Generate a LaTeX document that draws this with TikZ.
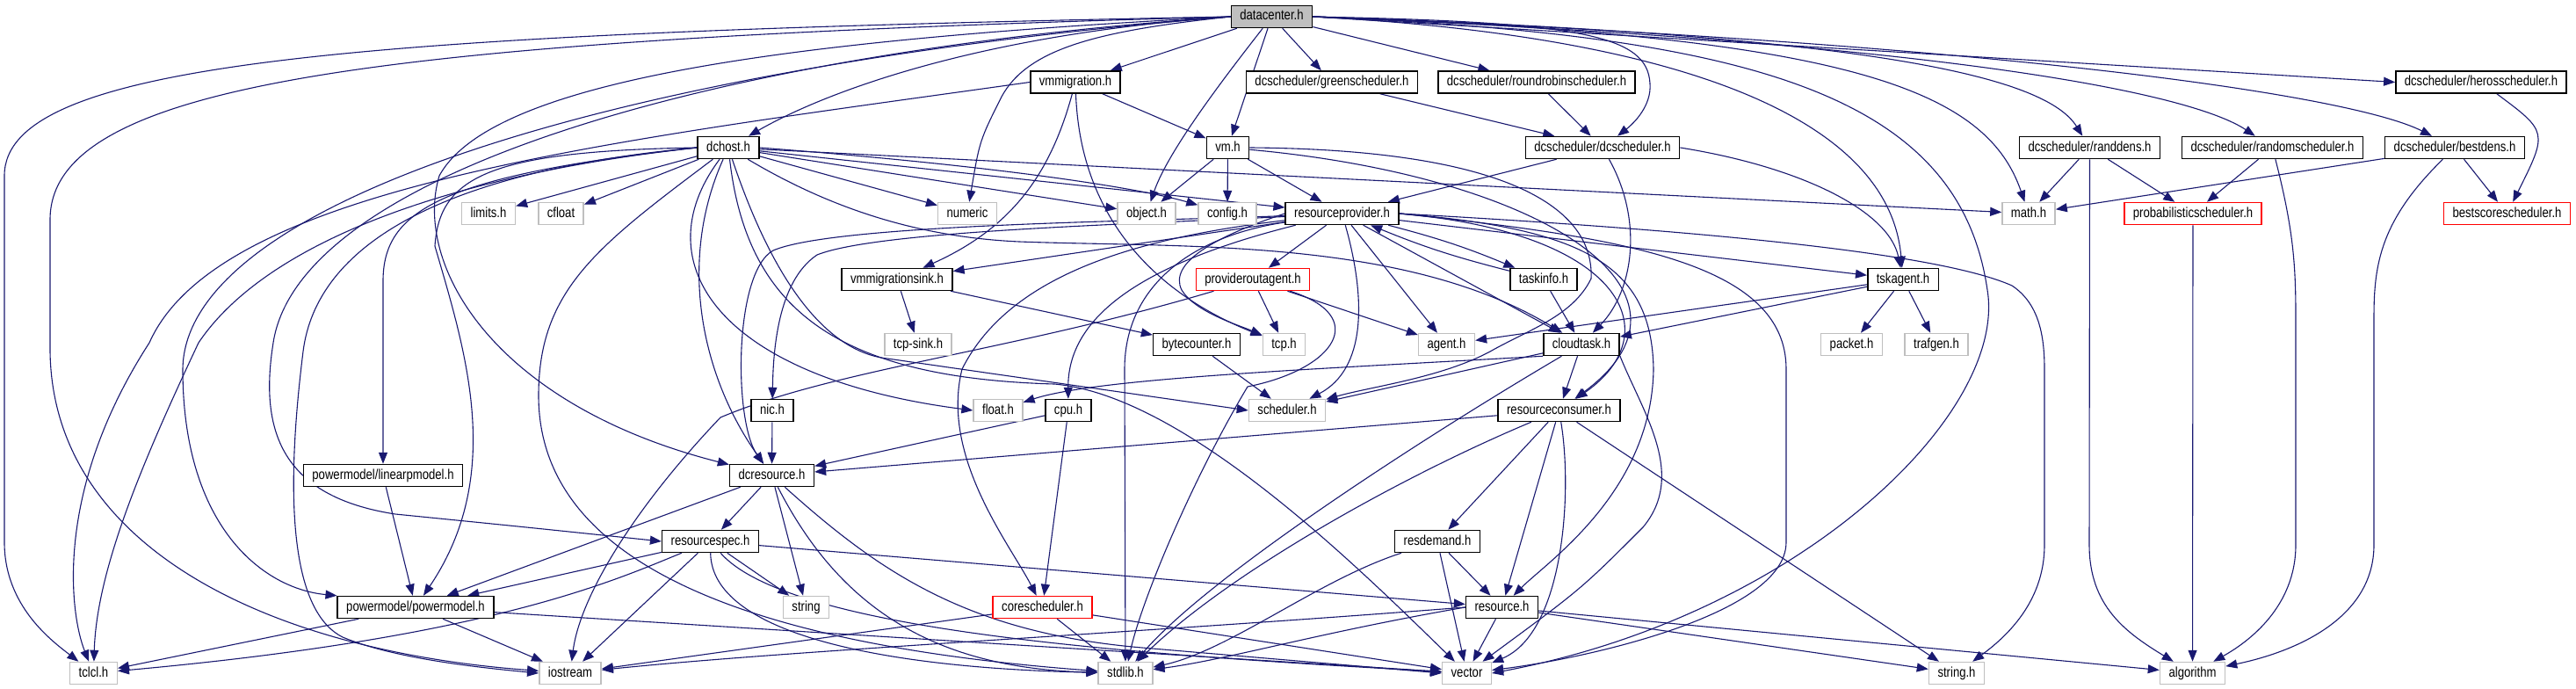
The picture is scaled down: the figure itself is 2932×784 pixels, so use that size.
\documentclass[tikz,border=0pt]{standalone}
\usepackage{fontspec}
\newfontfamily\nf[FakeStretch=0.82]{Liberation Sans}
\usetikzlibrary{arrows.meta}
\definecolor{edgec}{HTML}{191970}
\definecolor{grayb}{HTML}{BFBFBF}
\definecolor{redb}{HTML}{FF0000}
\pgfdeclarelayer{bg}
\pgfdeclarelayer{paper}
\pgfsetlayers{paper,bg,main}
\begin{document}
\begin{tikzpicture}[x=1pt,y=-1pt,
  box/.style={draw=black, line width=1.5pt, fill=white, rectangle, minimum height=25pt,
    inner xsep=10pt, inner ysep=0pt, font=\nf\fontsize{16}{16}\selectfont, text height=11.5pt, text depth=3.5pt},
  ext/.style={box, draw=grayb},
  trunc/.style={box, draw=redb},
  root/.style={box, fill=grayb},
  e/.style={draw=edgec, line width=1.1pt, -{Triangle[length=13pt,width=10pt]}}]
\begin{pgfonlayer}{paper}
\fill[white] (0,0) rectangle (2932,784);
\end{pgfonlayer}
\useasboundingbox (0,0) rectangle (2932,784);

\node[root] (dc) at (1447.5,19) {datacenter.h};
\node[box] (vmm) at (1224,93.5) {vmmigration.h};
\node[box] (green) at (1516,93.5) {dcscheduler/greenscheduler.h};
\node[box] (rr) at (1749,93.5) {dcscheduler/roundrobinscheduler.h};
\node[box] (heros) at (2824,93.5) {dcscheduler/herosscheduler.h};
\node[box] (dchost) at (829,168) {dchost.h};
\node[box] (vm) at (1397.5,168) {vm.h};
\node[box] (dcs) at (1824,168) {dcscheduler/dcscheduler.h};
\node[box] (randdens) at (2378.5,168) {dcscheduler/randdens.h};
\node[box] (randsch) at (2586.5,168) {dcscheduler/randomscheduler.h};
\node[box] (bestdens) at (2794,168) {dcscheduler/bestdens.h};
\node[ext] (limits) at (556,243) {limits.h};
\node[ext] (cfloat) at (638.5,243) {cfloat};
\node[ext] (numeric) at (1101,243) {numeric};
\node[ext] (object) at (1305,243) {object.h};
\node[ext] (config) at (1397,243) {config.h};
\node[box] (rp) at (1527.5,243) {resourceprovider.h};
\node[ext] (math) at (2309,243) {math.h};
\node[trunc] (prob) at (2496,243) {probabilisticscheduler.h};
\node[trunc] (bestscore) at (2853.5,243) {bestscorescheduler.h};
\node[box] (vmsink) at (1021,318) {vmmigrationsink.h};
\node[trunc] (poa) at (1426,318) {provideroutagent.h};
\node[box] (taskinfo) at (1757,318) {taskinfo.h};
\node[box] (tskagent) at (2166,318) {tskagent.h};
\node[ext] (tcpsink) at (1045,392) {tcp-sink.h};
\node[box] (bytecounter) at (1362,392) {bytecounter.h};
\node[ext] (tcp) at (1461.5,392) {tcp.h};
\node[ext] (agent) at (1646.5,392) {agent.h};
\node[box] (cloudtask) at (1800,392) {cloudtask.h};
\node[ext] (packet) at (2107.5,392) {packet.h};
\node[ext] (trafgen) at (2204,392) {trafgen.h};
\node[box] (nic) at (879,467) {nic.h};
\node[ext] (float) at (1136,467) {float.h};
\node[box] (cpu) at (1216,467) {cpu.h};
\node[ext] (scheduler) at (1465,467) {scheduler.h};
\node[box] (rc) at (1774.5,467) {resourceconsumer.h};
\node[box] (linear) at (436,541) {powermodel/linearpmodel.h};
\node[box] (dcres) at (878.5,541) {dcresource.h};
\node[box] (rspec) at (808.5,616) {resourcespec.h};
\node[box] (resdemand) at (1636,616) {resdemand.h};
\node[box] (pm) at (473,691) {powermodel/powermodel.h};
\node[ext] (string) at (917.5,691) {string};
\node[trunc] (coresch) at (1186.5,691) {corescheduler.h};
\node[box] (resource) at (1709.5,691) {resource.h};
\node[ext] (tclcl) at (106.5,766) {tclcl.h};
\node[ext] (iostream) at (649,766) {iostream};
\node[ext] (stdlib) at (1281,766) {stdlib.h};
\node[ext] (vector) at (1669.5,766) {vector};
\node[ext] (stringh) at (2227,766) {string.h};
\node[ext] (algorithm) at (2495.5,766) {algorithm};

\begin{pgfonlayer}{bg}
% datacenter.h
\draw[e] (dc) -- (vmm);
\draw[e] (dc) -- (green);
\draw[e] (dc) -- (rr);
\draw[e] (dc.east) -- (heros.west);
\draw[e] (dc) -- (vm);
\draw[e] (dc) .. controls (1400,80) and (1330,170) .. (object);
\draw[e] (dc.west) .. controls (1250,35) and (1170,55) .. (1140,110) .. controls (1115,160) .. (numeric);
\draw[e] (dc.east) .. controls (1800,25) and (1875,40) .. (1878,95) .. controls (1880,120) and (1860,140) .. (dcs);
\draw[e] (dc.east) .. controls (1900,40) and (2150,130) .. (tskagent);
\draw[e] (dc.east) .. controls (2150,40) and (2330,90) .. (randdens);
\draw[e] (dc.east) .. controls (2250,50) and (2500,110) .. (randsch);
\draw[e] (dc.east) .. controls (2300,50) and (2680,110) .. (bestdens);
\draw[e] (dc.east) .. controls (2100,40) and (2260,100) .. (math);
\draw[e] (dc.east) .. controls (2000,40) and (2230,110) .. (2262,330) .. controls (2285,470) and (2050,700) .. (vector.east);
\draw[e] (dc.west) .. controls (400,38) and (5,70) .. (5,200) -- (5,617) .. controls (5,690) and (60,730) .. (tclcl);
\draw[e] (dc.west) .. controls (450,45) and (57,90) .. (57,250) -- (57,400) .. controls (60,620) and (300,740) .. (iostream);
\draw[e] (dc.west) .. controls (1100,40) and (930,110) .. (dchost);
\draw[e] (dc.west) .. controls (900,45) and (560,90) .. (500,200) .. controls (470,300) and (560,460) .. (dcres);
\draw[e] (dc.west) .. controls (800,60) and (340,200) .. (311,390) .. controls (295,490) and (320,565) .. (450,585) .. controls (600,600) .. (rspec.west);
\draw[e] (dc.west) .. controls (700,75) and (210,230) .. (208,420) .. controls (208,600) and (300,670) .. (pm.north west);
% vmmigration.h
\draw[e] (vmm) -- (vm);
\draw[e] (vmm) .. controls (1195,200) and (1150,260) .. (vmsink);
\draw[e] (vmm) .. controls (1230,260) and (1330,340) .. (tcp);
\draw[e] (vmm.west) .. controls (700,160) and (250,210) .. (170,390) .. controls (60,560) and (80,700) .. (tclcl);
% schedulers
\draw[e] (green) -- (dcs);
\draw[e] (rr) -- (dcs);
\draw[e] (heros) .. controls (2900,150) .. (bestscore);
\draw[e] (dcs) -- (rp);
\draw[e] (dcs) .. controls (1870,250) and (1860,330) .. (cloudtask);
\draw[e] (dcs.east) .. controls (2050,190) and (2150,240) .. (tskagent);
\draw[e] (randdens) -- (math);
\draw[e] (randdens) -- (prob);
\draw[e] (randdens) -- (2378,620) .. controls (2378,690) and (2420,720) .. (algorithm);
\draw[e] (randsch) -- (prob);
\draw[e] (randsch) .. controls (2610,260) and (2613,300) .. (2613,360) -- (2613,620) .. controls (2613,690) and (2560,730) .. (algorithm);
\draw[e] (bestdens) -- (math);
\draw[e] (bestdens) -- (bestscore);
\draw[e] (bestdens) .. controls (2710,250) and (2702,300) .. (2702,360) -- (2702,620) .. controls (2702,700) and (2620,740) .. (algorithm);
\draw[e] (prob) -- (algorithm);
% vm.h
\draw[e] (vm) -- (object);
\draw[e] (vm) -- (config);
\draw[e] (vm) -- (rp);
\draw[e] (vm.east) .. controls (1700,170) and (1815,230) .. (1811,317) .. controls (1790,360) and (1740,375) .. (1696,400) .. controls (1640,430) and (1560,440) .. (scheduler);
\draw[e] (vm) .. controls (1750,200) and (1960,330) .. (rc);
% dchost.h
\draw[e] (dchost) -- (limits);
\draw[e] (dchost) -- (cfloat);
\draw[e] (dchost) -- (numeric);
\draw[e] (dchost) -- (object);
\draw[e] (dchost.east) .. controls (1150,190) and (1300,215) .. (config);
\draw[e] (dchost) -- (rp);
\draw[e] (dchost) -- (math);
\draw[e] (dchost) .. controls (950,240) and (1050,270) .. (1160,275) .. controls (1350,282) and (1600,270) .. (cloudtask);
\draw[e] (dchost) .. controls (730,300) and (820,430) .. (float.west);
\draw[e] (dchost) .. controls (880,320) and (940,400) .. (1010,408) -- (scheduler.west);
\draw[e] (dchost) .. controls (850,350) and (950,430) .. (1200,437) .. controls (1350,450) and (1550,650) .. (vector);
\draw[e] (dchost) .. controls (770,300) and (800,430) .. (dcres);
\draw[e] (dchost.west) .. controls (560,172) and (500,200) .. (495,280) .. controls (530,400) and (575,540) .. (pm);
\draw[e] (dchost.west) .. controls (500,200) and (436,240) .. (436,320) -- (linear);
\draw[e] (dchost.west) .. controls (500,200) and (300,280) .. (226,390) .. controls (160,530) and (110,650) .. (tclcl);
\draw[e] (dchost.west) .. controls (500,195) and (360,280) .. (345,400) .. controls (320,600) and (340,700) .. (390,725) .. controls (450,750) and (550,760) .. (iostream.west);
\draw[e] (dchost) .. controls (680,280) and (613,330) .. (613,450) .. controls (613,620) and (800,730) .. (stdlib);
% resourceprovider.h
\draw[e] (rp) -- (poa);
\draw[e] (rp) to[bend left=4] (taskinfo);
\draw[e] (taskinfo) to[bend left=4] (rp);
\draw[e] (rp) -- (agent);
\draw[e] (rp) -- (cloudtask);
\draw[e] (rp) .. controls (1555,340) and (1555,420) .. (scheduler);
\draw[e] (rp.west) .. controls (1380,270) and (1330,300) .. (1345,330) .. controls (1360,355) and (1410,370) .. (tcp);
\draw[e] (rp) -- (tskagent);
\draw[e] (rp) -- (vmsink);
\draw[e] (rp) .. controls (1300,300) and (1215,360) .. (cpu);
\draw[e] (rp) .. controls (1300,255) and (1000,262) .. (930,290) .. controls (885,320) and (880,400) .. (nic);
\draw[e] (rp) .. controls (1300,252) and (950,255) .. (880,285) .. controls (835,310) and (835,480) .. (dcres);
\draw[e] (rp) .. controls (1300,270) and (1150,310) .. (1095,420) .. controls (1070,520) and (1150,620) .. (coresch);
\draw[e] (rp) .. controls (1350,270) and (1280,330) .. (1280,420) -- (stdlib);
\draw[e] (rp.east) .. controls (1850,270) and (2033,300) .. (2033,420) -- (2033,617) .. controls (2033,700) and (1800,750) .. (vector);
\draw[e] (rp.east) .. controls (1900,260) and (2200,285) .. (2290,325) .. controls (2320,345) and (2327,380) .. (2327,420) -- (2327,620) .. controls (2327,680) and (2290,720) .. (stringh);
\draw[e] (rp.east) .. controls (1800,260) and (1880,300) .. (1882,420) .. controls (1880,560) and (1760,640) .. (resource);
\draw[e] (rp.east) .. controls (1850,265) and (1900,380) .. (rc);
% provideroutagent.h
\draw[e] (poa) -- (tcp);
\draw[e] (poa) -- (agent);
\draw[e] (poa) .. controls (1560,360) and (1520,420) .. (1420,440) .. controls (1360,540) and (1300,680) .. (stdlib);
\draw[e] (poa) .. controls (1150,400) and (950,420) .. (820,475) .. controls (720,580) and (660,680) .. (iostream);
% misc
\draw[e] (taskinfo) -- (cloudtask);
\draw[e] (tskagent) -- (agent);
\draw[e] (tskagent) -- (cloudtask);
\draw[e] (tskagent) -- (packet);
\draw[e] (tskagent) -- (trafgen);
\draw[e] (vmsink) -- (tcpsink);
\draw[e] (vmsink) -- (bytecounter);
\draw[e] (bytecounter) -- (scheduler);
% cloudtask.h
\draw[e] (cloudtask) -- (scheduler);
\draw[e] (cloudtask.south west) .. controls (1500,420) and (1250,430) .. (float);
\draw[e] (cloudtask) -- (rc);
\draw[e] (cloudtask) .. controls (1650,480) and (1380,650) .. (stdlib);
\draw[e] (cloudtask.south east) .. controls (1870,470) and (1920,540) .. (1870,600) .. controls (1800,670) .. (vector);
% resourceconsumer.h
\draw[e] (rc) -- (dcres);
\draw[e] (rc) -- (resdemand);
\draw[e] (rc) -- (resource);
\draw[e] (rc) .. controls (1600,540) and (1400,650) .. (stdlib);
\draw[e] (rc) .. controls (1790,560) and (1780,720) .. (vector);
\draw[e] (rc) -- (stringh);
% resdemand.h / resource.h
\draw[e] (resdemand) -- (resource);
\draw[e] (resdemand) -- (vector);
\draw[e] (resdemand) .. controls (1500,660) and (1400,740) .. (stdlib);
\draw[e] (resource) -- (vector);
\draw[e] (resource.west) .. controls (1500,720) and (1400,750) .. (stdlib);
\draw[e] (resource.west) .. controls (1300,720) and (900,740) .. (iostream);
\draw[e] (resource) -- (stringh);
\draw[e] (resource) -- (algorithm);
% corescheduler.h, cpu.h, nic.h
\draw[e] (coresch) -- (stdlib);
\draw[e] (coresch) -- (iostream);
\draw[e] (coresch) -- (vector);
\draw[e] (cpu) -- (dcres);
\draw[e] (cpu) -- (coresch);
\draw[e] (nic) -- (dcres);
\draw[e] (linear) -- (pm);
% dcresource.h
\draw[e] (dcres) -- (rspec);
\draw[e] (dcres) -- (string);
\draw[e] (dcres) -- (pm);
\draw[e] (dcres) .. controls (950,680) and (1050,760) .. (stdlib);
\draw[e] (dcres) .. controls (1000,650) and (1100,720) .. (1300,737) -- (vector.west);
% resourcespec.h
\draw[e] (rspec) -- (pm);
\draw[e] (rspec) .. controls (700,660) and (560,725) .. (tclcl);
\draw[e] (rspec) -- (iostream);
\draw[e] (rspec) .. controls (810,720) and (1000,760) .. (stdlib);
\draw[e] (rspec) .. controls (900,720) and (1300,745) .. (vector);
\draw[e] (rspec) -- (string);
\draw[e] (rspec) -- (resource);
% powermodel.h
\draw[e] (pm) -- (tclcl);
\draw[e] (pm) -- (iostream);
\draw[e] (pm) -- (vector);
\end{pgfonlayer}
\end{tikzpicture}
\end{document}
